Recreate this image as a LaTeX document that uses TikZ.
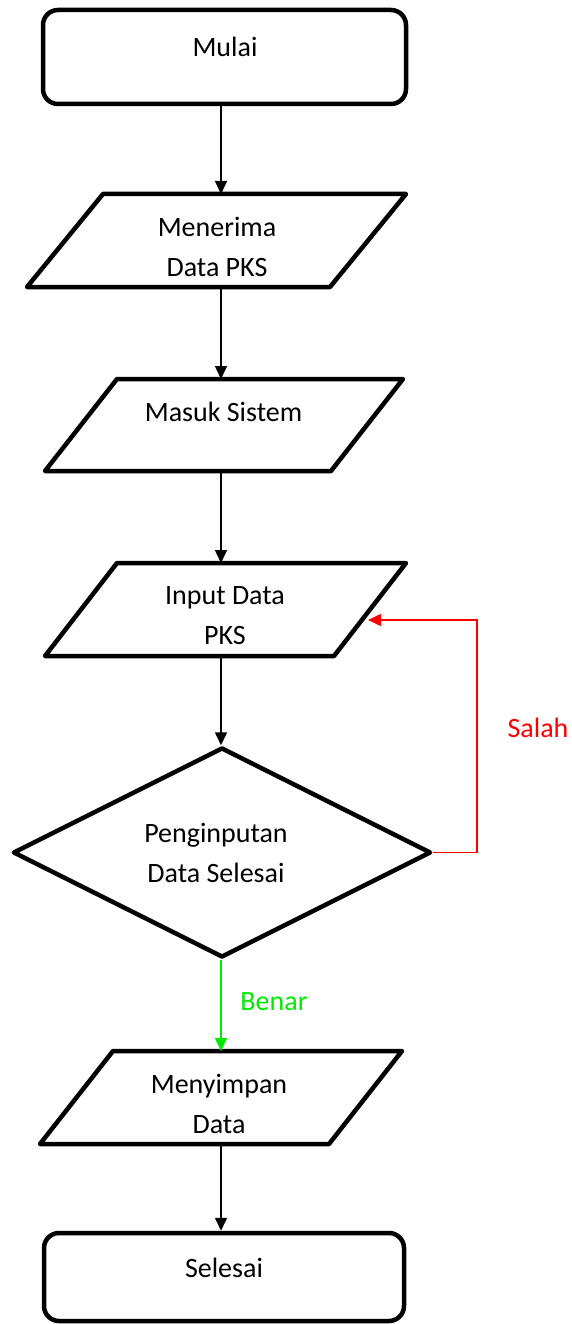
\documentclass[tikz,border=0pt]{standalone}
\usepackage{fontspec}
\setmainfont{Carlito}
\usetikzlibrary{shapes.geometric,arrows.meta,calc}

\definecolor{noRed}{RGB}{255,0,0}
\definecolor{yesGreen}{RGB}{0,235,0}

\tikzset{
  shapeline/.style={line width=4.5pt, line join=round, black},
  terminal/.style={draw, shapeline, rounded corners=15pt, inner sep=0pt},
  iobox/.style={inner sep=0pt, outer sep=0pt},
  decision/.style={draw, shapeline, diamond, inner sep=0pt, aspect=2},
  txt/.style={inner sep=0pt, align=center, font=\fontsize{28}{40}\selectfont},
  arr/.style={line width=1.6pt, -{Triangle[width=12pt,length=13pt]}},
}

% draws a parallelogram over an invisible box node; #2 is the slant offset
\newcommand{\parabox}[2]{%
  \draw[shapeline] ($(#1.north west)+(#2,0)$) -- (#1.north east)
    -- ($(#1.south east)-(#2,0)$) -- (#1.south west) -- cycle;}

\begin{document}
\begin{tikzpicture}[x=1pt, y=-1pt]
\useasboundingbox (0,0) rectangle (572,1324);

% terminals
\node[terminal, minimum width=363pt, minimum height=94pt] (mulai) at (224.5,57) {};
\node[txt] (mulaiT) at (225,47) {Mulai};

\node[terminal, minimum width=360pt, minimum height=88pt] (selesai) at (224,1277) {};
\node[txt] (selesaiT) at (224,1268) {Selesai};

% input / output boxes
\node[iobox, minimum width=379pt, minimum height=93pt] (p1) at (216.5,240.5) {};
\parabox{p1}{76}
\node[txt] (p1T) at (217,247) {Menerima\\Data PKS};

\node[iobox, minimum width=358pt, minimum height=92pt] (p2) at (224,425) {};
\parabox{p2}{72}
\node[txt] (p2T) at (223.5,412) {Masuk Sistem};

\node[iobox, minimum width=361pt, minimum height=93pt] (p3) at (225.5,609.5) {};
\parabox{p3}{72}
\node[txt] (p3T) at (225,616) {Input Data\\PKS};

\node[decision, minimum width=418pt, minimum height=210pt] (dec) at (222,852.5) {};
\node[txt] (decT) at (216,853) {Penginputan\\Data Selesai};

\node[iobox, minimum width=362pt, minimum height=93pt] (p4) at (221,1097.5) {};
\parabox{p4}{73}
\node[txt] (p4T) at (219,1103.5) {Menyimpan\\Data};

% connectors
\coordinate (col) at (221,0);
\draw[arr] (col |- mulai.south) -- (col |- p1.north);
\draw[arr] (col |- p1.south) -- (col |- p2.north);
\draw[arr] (col |- p2.south) -- (col |- p3.north);
\draw[arr] (col |- p3.south) -- (col |- dec.north);
\draw[arr, yesGreen] (col |- dec.south) -- (col |- p4.north);
\draw[arr] (col |- p4.south) -- (col |- selesai.north);

\coordinate (loopR) at (477,620);
\coordinate (loopIn) at (368,620);
\draw[arr, noRed] (dec.east) -| (loopR) -- (loopIn);

\node[txt, text=noRed] (salah) at (538,728) {Salah};
\node[txt, text=yesGreen] (benar) at (274,1002) {Benar};
\end{tikzpicture}
\end{document}
